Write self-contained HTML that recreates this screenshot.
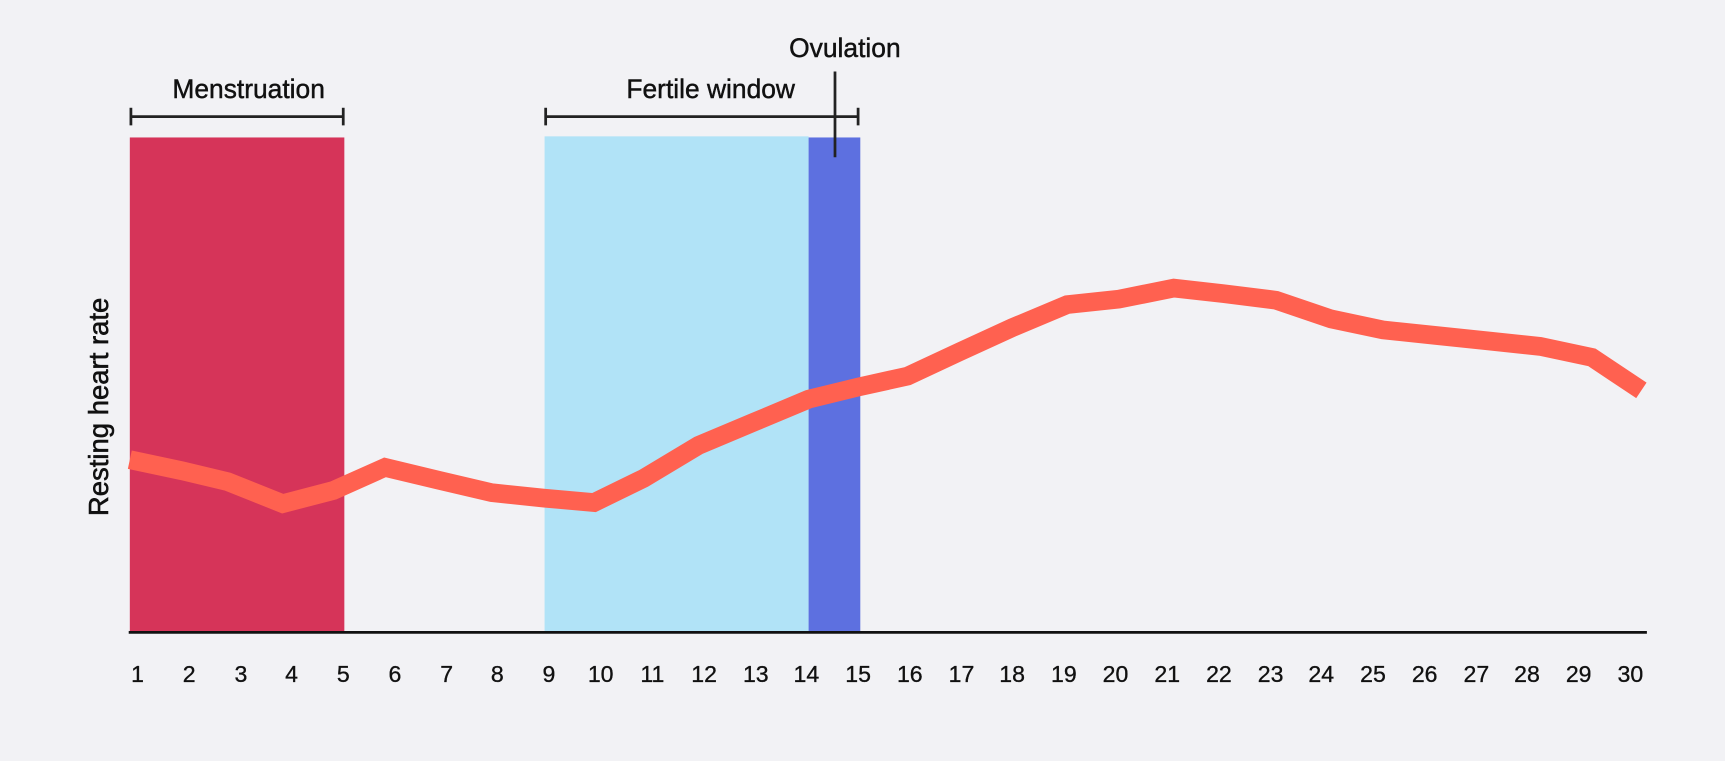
<!DOCTYPE html>
<html><head><meta charset="utf-8"><style>
html,body{margin:0;padding:0;background:#f2f2f5;}
svg{display:block}
text{font-family:"Liberation Sans",sans-serif;fill:#111;}
</style></head><body>
<svg width="1725" height="761" viewBox="0 0 1568 692" preserveAspectRatio="none" xmlns="http://www.w3.org/2000/svg">
<rect width="1568" height="692" fill="#f2f2f5"/>
<rect x="118" y="125" width="195" height="450" fill="#d63459"/>
<rect x="495" y="124" width="240" height="451" fill="#b1e3f7"/>
<rect x="735" y="125" width="47" height="450" fill="#5d70e0"/>
<polyline fill="none" stroke="#ff6150" stroke-width="17" stroke-linejoin="miter" points="118,418 165,428 207,438 257,458 303,446 350,425 400,437 447,448 495,453 540,457 585,435 635,405 685,384 735,363 780,352 825,342 872,320 920,298 970,277 1017,272 1067,262 1112,267 1160,273 1210,290 1257,300 1305,305 1353,310 1400,315 1447,325 1492,355"/>
<line x1="117" y1="575" x2="1497" y2="575" stroke="#111" stroke-width="2.5"/>
<g stroke="#222" stroke-width="2.5">
<line x1="119" y1="106" x2="312" y2="106"/><line x1="119" y1="98" x2="119" y2="114"/><line x1="312" y1="98" x2="312" y2="114"/>
<line x1="496" y1="106" x2="780" y2="106"/><line x1="496" y1="98" x2="496" y2="114"/><line x1="780" y1="98" x2="780" y2="114"/>
<line x1="759" y1="65" x2="759" y2="143"/>
</g>
<g font-size="24" text-anchor="middle" stroke="#111" stroke-width="0.4">
<text x="226" y="89">Menstruation</text>
<text x="646" y="89">Fertile window</text>
<text x="768" y="52">Ovulation</text>
</g>
<text transform="translate(98,370) rotate(-90)" font-size="25" text-anchor="middle" stroke="#111" stroke-width="0.5">Resting heart  rate</text>
<g font-size="21" text-anchor="middle" stroke="#111" stroke-width="0.3">
<text x="125" y="620">1</text><text x="172" y="620">2</text><text x="219" y="620">3</text><text x="265" y="620">4</text><text x="312" y="620">5</text><text x="359" y="620">6</text><text x="406" y="620">7</text><text x="452" y="620">8</text><text x="499" y="620">9</text><text x="546" y="620">10</text><text x="593" y="620">11</text><text x="640" y="620">12</text><text x="687" y="620">13</text><text x="733" y="620">14</text><text x="780" y="620">15</text><text x="827" y="620">16</text><text x="874" y="620">17</text><text x="920" y="620">18</text><text x="967" y="620">19</text><text x="1014" y="620">20</text><text x="1061" y="620">21</text><text x="1108" y="620">22</text><text x="1155" y="620">23</text><text x="1201" y="620">24</text><text x="1248" y="620">25</text><text x="1295" y="620">26</text><text x="1342" y="620">27</text><text x="1388" y="620">28</text><text x="1435" y="620">29</text><text x="1482" y="620">30</text>
</g>
</svg>
</body></html>
